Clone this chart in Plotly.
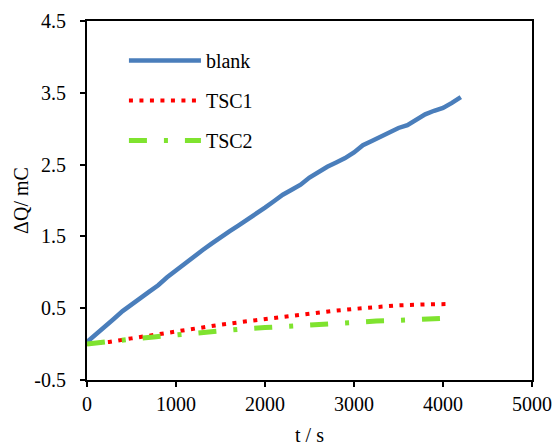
import plotly.graph_objects as go

# Data
t_blank = [0, 100, 200, 300, 400, 500, 600, 700, 800, 900, 1000, 1100, 1200, 1300,
           1400, 1500, 1600, 1700, 1800, 1900, 2000, 2100, 2200, 2300, 2400, 2500,
           2600, 2700, 2800, 2900, 3000, 3100, 3200, 3300, 3400, 3500, 3600, 3700,
           3800, 3900, 4000, 4100, 4200]
q_blank = [0.03, 0.13, 0.24, 0.35, 0.46, 0.56, 0.64, 0.73, 0.82, 0.93, 1.03, 1.12,
           1.22, 1.31, 1.40, 1.49, 1.57, 1.65, 1.73, 1.81, 1.90, 1.99, 2.08, 2.15,
           2.22, 2.32, 2.40, 2.47, 2.53, 2.59, 2.67, 2.77, 2.83, 2.89, 2.96, 3.01,
           3.05, 3.12, 3.20, 3.25, 3.29, 3.36, 3.44]

t_tsc1 = [0, 250, 500, 750, 1000, 1250, 1500, 1750, 2000, 2250, 2500, 2750, 3000,
          3250, 3500, 3750, 4000, 4100]
q_tsc1 = [0.0, 0.03, 0.08, 0.13, 0.18, 0.23, 0.27, 0.31, 0.35, 0.39, 0.43, 0.46,
          0.49, 0.52, 0.54, 0.55, 0.555, 0.56]

t_tsc2 = [0, 250, 500, 750, 1000, 1250, 1500, 1750, 2000, 2250, 2500, 2750, 3000,
          3250, 3500, 3750, 4000]
q_tsc2 = [0.0, 0.04, 0.07, 0.10, 0.13, 0.16, 0.19, 0.21, 0.23, 0.25, 0.27, 0.29,
          0.30, 0.32, 0.33, 0.35, 0.36]

x_ticks = [0, 1000, 2000, 3000, 4000, 5000]
y_ticks = [-0.5, 0.5, 1.5, 2.5, 3.5, 4.5]

FONT = "Liberation Serif"

fig = go.Figure()
fig.add_trace(go.Scatter(x=t_blank, y=q_blank, mode="lines", name="blank",
                         legendgroup="a",
                         line=dict(color="#4A7EBB", width=4.5)))
fig.add_trace(go.Scatter(x=t_tsc1, y=q_tsc1, mode="lines", name="TSC1",
                         legendgroup="b",
                         line=dict(color="#FF0000", width=4, dash="4px,6.5px")))
fig.add_trace(go.Scatter(x=t_tsc2, y=q_tsc2, mode="lines", name="TSC2",
                         legendgroup="c",
                         line=dict(color="#7FE32F", width=5,
                                   dash="18px,17px,4px,17px")))

fig.update_layout(
    width=555, height=446,
    margin=dict(l=87, r=23, t=21, b=66, autoexpand=False),
    paper_bgcolor="white", plot_bgcolor="white",
    font=dict(family=FONT, size=20, color="black"),
    showlegend=True,
    legend=dict(x=0.083, y=0.944, xanchor="left", yanchor="top",
                bgcolor="rgba(0,0,0,0)", font=dict(size=20, family=FONT),
                itemwidth=72, tracegroupgap=11),
    xaxis=dict(range=[0, 5000], tickvals=x_ticks, ticktext=[str(v) for v in x_ticks],
               showgrid=False, zeroline=False, showline=True, linecolor="black",
               linewidth=2, mirror=True, ticks="outside", ticklen=5, tickwidth=1.5,
               tickcolor="black", automargin=False,
               title=dict(text="t / s", font=dict(size=20, family=FONT), standoff=19)),
    yaxis=dict(range=[-0.5, 4.5], tickvals=y_ticks,
               ticktext=["%.1f" % v for v in y_ticks],
               showgrid=False, zeroline=False, showline=True, linecolor="black",
               linewidth=2, mirror=True, ticks="outside", ticklen=5, tickwidth=1.5,
               tickcolor="black", ticklabelstandoff=10, automargin=False,
               title=dict(text="ΔQ/ mC", font=dict(size=20, family=FONT), standoff=0)),
)

fig.write_html("out.html", config={"displayModeBar": False},
               post_script="document.body.style.margin='0';document.body.style.padding='0';")
